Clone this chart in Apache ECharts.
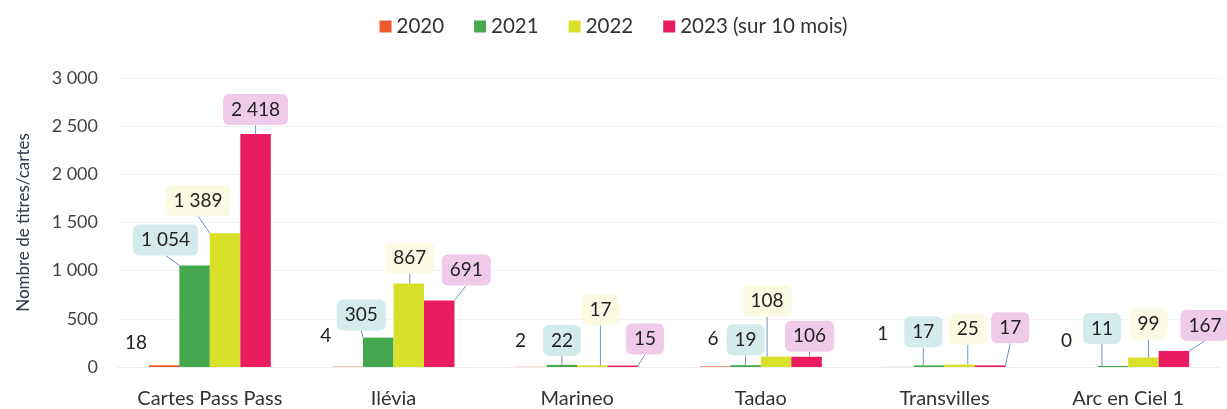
<!DOCTYPE html>
<html>
<head>
<meta charset="utf-8">
<script src="https://cdn.jsdelivr.net/npm/echarts@6/dist/echarts.min.js"></script>
<style>
  html, body { margin: 0; padding: 0; background: #fff; }
  #chart { width: 1227px; height: 409px; }
</style>
</head>
<body>
<div id="chart"></div>
<script>
// categories and values per year
const categories = ['Cartes Pass Pass', 'Ilévia', 'Marineo', 'Tadao', 'Transvilles', 'Arc en Ciel 1'];
const years = ['2020', '2021', '2022', '2023 (sur 10 mois)'];
const v2020 = [18, 4, 2, 6, 1, 0];
const v2021 = [1054, 305, 22, 19, 17, 11];
const v2022 = [1389, 867, 17, 108, 25, 99];
const v2023 = [2418, 691, 15, 106, 17, 167];
const yTicks = [0, 500, 1000, 1500, 2000, 2500, 3000];

// look
const colors = ['#ee5a2c', '#46a84e', '#d8e02a', '#e81c5e'];
const labelBg = ['transparent', '#d3ebea', '#fbfbe4', '#efcbe9'];
// hand placed label shifts [dx, dy] per series / category (as in the original)
const labelShift = [
  [[-28, -2], [-22, -10], [-11, -5], [-2, -7], [-16, -13], [-16, -6]],
  [[-29, -5], [-17, -2], [0, -4], [0, -5], [-6, -13], [-11, -17]],
  [[-27, -12], [1, -5], [8, -35], [-9, -35], [8, -15], [5, -13]],
  [[0, -4], [27, -10], [22, -6], [3, 0], [20, -17], [31, -5]]
];

const fontFamily = 'Lato, "Open Sans", sans-serif';
const fmt = v => String(v).replace(/\B(?=(\d{3})+(?!\d))/g, ' ');

const allValues = [v2020, v2021, v2022, v2023];

let chart = echarts.init(document.getElementById('chart'));
chart.setOption({
  animation: false,
  textStyle: { fontFamily: fontFamily },
  color: colors,
  legend: {
    top: 11,
    left: 'center',
    itemWidth: 12,
    itemHeight: 12,
    itemGap: 30,
    icon: 'rect',
    textStyle: { fontSize: 20.5, color: '#333', fontFamily: fontFamily },
    data: years
  },
  grid: { left: 118, right: 7, top: 78, bottom: 40 },
  xAxis: {
    type: 'category',
    data: categories,
    axisTick: { show: false },
    axisLine: { lineStyle: { color: '#eeeeee' } },
    axisLabel: { interval: 0, fontSize: 20, color: '#333', margin: 22, fontFamily: fontFamily }
  },
  yAxis: {
    type: 'value',
    min: yTicks[0],
    max: yTicks[yTicks.length - 1],
    interval: 500,
    name: 'Nombre de titres/cartes',
    nameLocation: 'middle',
    nameGap: 86,
    nameTextStyle: { fontSize: 17, color: '#2f3a4a', fontFamily: fontFamily },
    axisLabel: { fontSize: 18, color: '#444', margin: 20, formatter: fmt, fontFamily: fontFamily },
    splitLine: { lineStyle: { color: '#f3f3f3' } }
  },
  series: years.map((name, i) => ({
    name: name,
    type: 'bar',
    data: allValues[i],
    barWidth: 30.5,
    barGap: '0%',
    label: {
      show: true,
      position: 'top',
      formatter: p => fmt(p.value),
      fontSize: 19,
      color: '#222',
      fontFamily: fontFamily,
      backgroundColor: labelBg[i],
      borderRadius: 6,
      padding: i === 0 ? [6, 2] : [6, 8]
    },
    labelLine: {
      show: i !== 0,
      lineStyle: { color: '#6e93c4', width: 1 }
    },
    labelLayout: p => ({
      dx: labelShift[i][p.dataIndex][0],
      dy: labelShift[i][p.dataIndex][1]
    })
  }))
});
</script>
</body>
</html>
